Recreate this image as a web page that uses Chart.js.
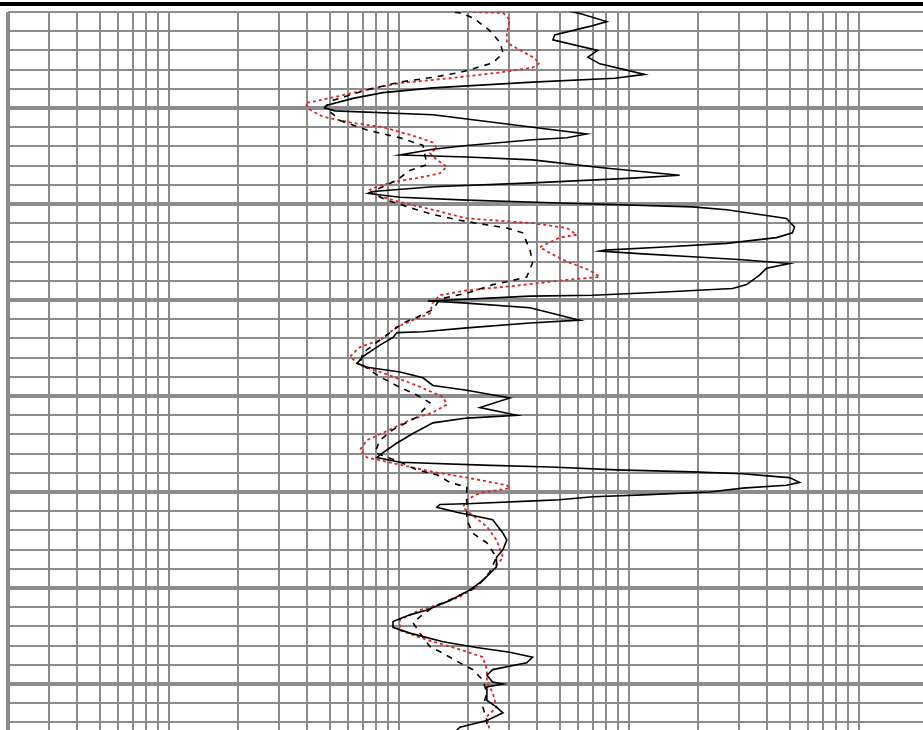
<!DOCTYPE html>
<html>
<head>
<meta charset="utf-8">
<script src="https://cdn.jsdelivr.net/npm/chart.js@4.4.1/dist/chart.umd.min.js"></script>
<style>
  html, body { margin: 0; padding: 0; background: #fff; overflow: hidden; }
  #wrap { position: absolute; left: 0; top: 0; width: 928px; height: 732px; }
</style>
</head>
<body>
<div id="wrap"><canvas id="graph" width="928" height="732"></canvas></div>
<script>
// depth in metres, values in ohm-m (log scale)
var solidDepth = [1499.8, 1500.2, 1501.0, 1501.5, 1502.4, 1502.9, 1504.0, 1504.7, 1505.4, 1506.0, 1506.5, 1506.9,
    1507.3, 1507.9, 1508.4, 1509.0, 1509.7, 1510.0, 1510.3, 1510.7, 1512.0, 1512.7, 1513.1, 1513.3, 1513.9, 1514.3,
    1514.9, 1515.1, 1515.4, 1516.2, 1517.0, 1517.3, 1517.8, 1518.2, 1518.7, 1518.9, 1519.3, 1519.6, 1519.9, 1520.3,
    1520.6, 1521.2, 1521.5, 1522.4, 1523.0, 1523.5, 1524.1, 1524.5, 1524.8, 1524.9, 1525.2, 1525.5, 1525.8, 1526.2,
    1526.7, 1527.4, 1528.4, 1528.8, 1529.2, 1529.5, 1529.6, 1529.8, 1530.1, 1530.3, 1530.8, 1532.1, 1532.4, 1532.9,
    1533.3, 1533.4, 1533.9, 1534.7, 1535.9, 1536.6, 1537.0, 1537.5, 1538.1, 1538.9, 1539.4, 1540.2, 1541.2, 1542.0,
    1542.3, 1542.8, 1543.9, 1544.9, 1545.9, 1546.4, 1546.9, 1547.2, 1547.4, 1547.7, 1547.9, 1548.1, 1548.4, 1548.5,
    1549.0, 1549.3, 1549.6, 1550.0, 1550.3, 1550.5, 1550.8, 1550.9, 1551.2, 1551.3, 1551.6, 1552.1, 1552.6, 1552.9,
    1554.3, 1555.0, 1556.0, 1556.8, 1557.8, 1559.2, 1560.2, 1561.3, 1562.3, 1562.8, 1563.5, 1564.1, 1564.7, 1565.6,
    1566.2, 1566.7, 1567.2, 1567.8, 1568.5, 1569.1, 1569.8, 1570.0, 1570.3, 1571.7, 1572.4, 1573.0, 1573.8, 1574.5, 1575.0];
var solidVal = [263, 312, 401, 338, 238, 234, 366, 332, 374, 480, 586, 434,
    191, 70.4, 42.7, 31.6, 24.4, 23.9, 26.4, 70.4, 191, 328, 269, 191, 98.8, 70.4,
    50.6, 98.8, 191, 374, 832, 520, 191, 70.4, 38.6, 36.7, 50.6, 98.8, 250, 947,
    1331, 1985, 2425, 2627, 2575, 2195, 1331, 681, 393, 374, 575, 947, 1562, 2499,
    1985, 1851, 1626, 1413, 681, 349, 186, 124, 66.9, 95, 186, 306, 186, 98.8,
    63.7, 49.1, 47.2, 41.4, 34.9, 32.9, 36.4, 50.6, 63.7, 70.4, 98.8, 152, 112.6, 163,
    98.8, 70.4, 57.6, 49.1, 42.7, 40.2, 50.6, 116, 227, 443, 947, 1562, 2195, 2499,
    2762, 2425, 1562, 1123, 575, 349, 250, 205, 105, 75.5, 73.2, 89.4, 112.6, 128,
    142, 147.5, 142, 133, 133, 116, 102, 83.4, 66.3, 55.9, 47.2, 47.2, 55.9, 77.8,
    109, 152, 191, 180, 128, 120.8, 128, 142, 120.8, 120.8, 133, 142, 120.8, 92.2, 87.7];

var dashDepth = [1499.8, 1500.1, 1500.6, 1501.9, 1503.2, 1504.3, 1505.3, 1505.8, 1506.3, 1506.8, 1507.3, 1508.1,
    1509.2, 1509.9, 1511.3, 1512.3, 1513.1, 1513.9, 1515.9, 1516.5, 1517.5, 1518.2, 1518.8, 1519.6, 1520.6, 1521.1,
    1521.7, 1522.0, 1522.5, 1523.0, 1524.8, 1526.1, 1527.6, 1528.1, 1528.4, 1529.2, 1529.9, 1531.0, 1531.8, 1532.4,
    1533.4, 1534.4, 1535.5, 1536.6, 1538.0, 1539.1, 1539.9, 1540.7, 1542.2, 1543.5, 1544.6, 1545.9, 1547.0, 1547.7,
    1548.2, 1549.0, 1549.5, 1550.8, 1551.6, 1552.9, 1554.3, 1555.3, 1556.8, 1558.4, 1559.9, 1560.9, 1562.0, 1563.0,
    1563.6, 1564.7, 1566.1, 1566.8, 1567.8, 1568.5, 1569.6, 1570.9, 1572.4, 1573.8, 1575.0];
var dashVal = [77.8, 92.2, 105, 124, 138, 142, 128, 109, 92.2, 70.4, 50.6, 36.4,
    25.9, 23.8, 27.8, 36.4, 50.6, 63.7, 66.3, 55.9, 49.1, 42.7, 37.5, 44.4, 59.9, 70.4,
    92.2, 109, 147.5, 173, 186, 191, 180, 147.5, 128, 102, 75.5, 70.4, 59.9, 52.1,
    45.8, 40.2, 34.9, 33.9, 41.4, 50.6, 59.9, 68.3, 59.9, 47.2, 41.4, 39.4, 52.1, 59.9,
    73.2, 83.4, 98.8, 98.8, 98.8, 98.8, 105, 120.8, 133, 124, 109, 89.4, 70.4, 61.8,
    57.6, 61.8, 68.3, 77.8, 92.2, 105, 116, 120.8, 116, 120.8, 120.8];

var redDepth = [1500.0, 1500.1, 1500.8, 1502.2, 1503.2, 1504.7, 1505.3, 1505.8, 1506.3, 1506.9, 1507.4, 1508.1,
    1508.9, 1509.5, 1510.2, 1510.9, 1511.5, 1512.0, 1513.0, 1513.6, 1514.2, 1514.7, 1515.4, 1516.1, 1516.8, 1517.3,
    1517.7, 1518.2, 1518.5, 1519.1, 1519.8, 1520.6, 1521.5, 1522.0, 1522.5, 1523.2, 1523.5, 1524.5, 1525.1, 1526.0,
    1526.9, 1527.6, 1527.9, 1528.5, 1529.0, 1529.5, 1530.2, 1531.4, 1532.1, 1532.8, 1534.2, 1534.9, 1535.9, 1536.8,
    1537.6, 1538.9, 1540.1, 1540.9, 1541.7, 1542.5, 1543.5, 1544.6, 1545.6, 1546.4, 1547.0, 1547.9, 1548.75, 1549.3,
    1549.6, 1550.1, 1550.8, 1551.6, 1552.2, 1553.6, 1555.0, 1556.8, 1558.1, 1559.9, 1560.9, 1561.6, 1562.3, 1563.3,
    1564.4, 1565.4, 1566.3, 1567.2, 1568.5, 1569.8, 1570.9, 1572.4, 1573.4, 1575.0];
var redVal = [105, 142, 152, 147.5, 147.5, 191, 205, 191, 137.5, 83.4, 50.6, 36.4,
    25.9, 19.6, 20.6, 23.4, 30.7, 42.7, 59.9, 70.4, 73.2, 68.3, 73.2, 80.9, 75.5, 59.9,
    47.2, 40.2, 37.5, 40.2, 50.6, 70.4, 98.8, 191, 269, 297, 250.5, 205, 226.7, 269,
    338, 374, 269, 163, 98.8, 75.5, 70.4, 68.3, 57.6, 49.1, 41.4, 33.9, 30.7, 33.9,
    42.7, 59.9, 77.8, 80.9, 70.4, 55.9, 45.8, 36.4, 33.9, 36.4, 47.2, 70.4, 112.6, 147.5,
    151.9, 112.6, 98.8, 95, 102, 120.8, 133, 142, 128, 109, 92.2, 77.8, 61.8, 50.6,
    50.6, 66.3, 89.4, 116, 120.8, 120.8, 128, 133, 120.8, 124.4];

// grid: 1, 1.5, 2 ... 5 in every decade; depth lines every 2 m, heavy every 10 m
var decadeSteps = [1, 1.5, 2, 2.5, 3, 3.5, 4, 4.5, 5];
var decades = [1, 10, 100, 1000];
var depthTop = 1500, depthBottom = 1575;

function pts(depth, vals) {
    var out = [];
    for (var i = 0; i < depth.length; i++) out.push({x: vals[i], y: depth[i]});
    return out;
}

var topBar = {
    id: "topBar",
    afterDraw: function(chart) {
        var c = chart.ctx;
        c.save();
        c.fillStyle = "#000";
        c.fillRect(0, 2, chart.width, 4);
        c.restore();
    }
};

var ctx = document.getElementById("graph").getContext("2d");
var chart = new Chart(ctx, {
    type: "scatter",
    data: {
        datasets: [
            {label: "solid", data: pts(solidDepth, solidVal), showLine: true, borderColor: "#000",
             borderWidth: 1.6, pointRadius: 0, tension: 0},
            {label: "dashed", data: pts(dashDepth, dashVal), showLine: true, borderColor: "#000",
             borderWidth: 1.6, borderDash: [6, 6], pointRadius: 0, tension: 0},
            {label: "red", data: pts(redDepth, redVal), showLine: true, borderColor: "rgb(215,40,40)",
             borderWidth: 1.8, borderDash: [3, 3], pointRadius: 0, tension: 0}
        ]
    },
    options: {
        responsive: false,
        animation: false,
        events: [],
        layout: {padding: {left: 8, top: 12, right: 0, bottom: 0}},
        plugins: {legend: {display: false}, tooltip: {enabled: false}},
        scales: {
            x: {
                type: "logarithmic",
                position: "top",
                min: 1,
                max: 10000,
                afterBuildTicks: function(scale) {
                    var t = [];
                    decades.forEach(function(d) {
                        decadeSteps.forEach(function(s) { t.push({value: s * d}); });
                    });
                    t.push({value: 10000});
                    scale.ticks = t;
                },
                ticks: {display: false},
                border: {display: false},
                grid: {
                    drawTicks: false,
                    color: "#8c8c8c",
                    lineWidth: function(c) { return c.tick && c.tick.value === 1 ? 4 : 2; }
                }
            },
            y: {
                type: "linear",
                reverse: true,
                min: depthTop,
                max: depthBottom,
                afterBuildTicks: function(scale) {
                    var t = [];
                    for (var d = depthTop; d <= depthBottom; d += 2) t.push({value: d});
                    scale.ticks = t;
                },
                ticks: {display: false},
                border: {display: false},
                grid: {
                    drawTicks: false,
                    color: "#8c8c8c",
                    lineWidth: function(c) {
                        if (!c.tick) return 2;
                        var v = c.tick.value;
                        return (v % 10 === 0 && v !== depthTop) ? 4 : 2;
                    }
                }
            }
        }
    },
    plugins: [topBar]
});
</script>
</body>
</html>
